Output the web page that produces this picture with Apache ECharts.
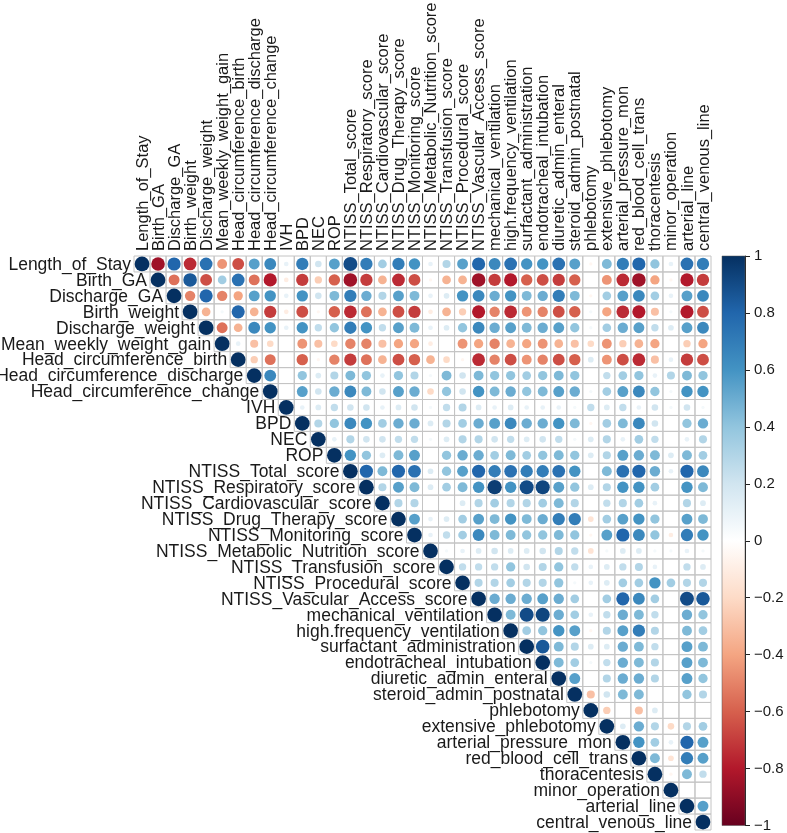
<!DOCTYPE html>
<html>
<head>
<meta charset="utf-8">
<script src="https://cdn.jsdelivr.net/npm/echarts@6/dist/echarts.min.js"></script>
<style>
html,body{margin:0;padding:0;background:#fff;}
#c{width:787px;height:833px;}
</style>
</head>
<body>
<div id="c"></div>
<script>
const names = ["Length_of_Stay","Birth_GA","Discharge_GA","Birth_weight","Discharge_weight","Mean_weekly_weight_gain","Head_circumference_birth","Head_circumference_discharge","Head_circumference_change","IVH","BPD","NEC","ROP","NTISS_Total_score","NTISS_Respiratory_score","NTISS_Cardiovascular_score","NTISS_Drug_Therapy_score","NTISS_Monitoring_score","NTISS_Metabolic_Nutrition_score","NTISS_Transfusion_score","NTISS_Procedural_score","NTISS_Vascular_Access_score","mechanical_ventilation","high.frequency_ventilation","surfactant_administration","endotracheal_intubation","diuretic_admin_enteral","steroid_admin_postnatal","phlebotomy","extensive_phlebotomy","arterial_pressure_mon","red_blood_cell_trans","thoracentesis","minor_operation","arterial_line","central_venous_line"];

// correlations of each row with the columns to its right (upper triangle, diagonal = 1)
const R00 = [-0.85,0.8,-0.75,0.75,-0.45,-0.65,0.55,0.65, 0.1,0.7,0.2,0.55,0.9,0.7,0.35,0.7,0.6, 0.1,0.3,0.55,0.8,0.65,0.75,0.6,0.6,0.75, 0.55,-0.05,0.45,0.7,0.8,0.4,0.1,0.75,0.7];
const R01 = [-0.55,0.85,-0.65,0.35,0.75,-0.55,-0.8, -0.1,-0.7,-0.25,-0.6,-0.85,-0.7,-0.35,-0.75,-0.65, -0.05,-0.35,-0.35,-0.85,-0.7,-0.8,-0.6,-0.65,-0.7, -0.6,0,-0.45,-0.75,-0.85,-0.4,-0.05,-0.8,-0.7];
const R02 = [-0.5,0.8,-0.5,-0.4,0.55,0.6, 0.1,0.6,0.2,0.45,0.7,0.5,0.3,0.55,0.45, 0.1,0.15,0.6,0.65,0.5,0.6,0.45,0.5,0.7, 0.45,-0.05,0.35,0.55,0.65,0.35,0.1,0.55,0.65];
const R03 = [-0.35,0.05,0.8,-0.35,-0.7, -0.1,-0.65,-0.05,-0.6,-0.75,-0.55,-0.35,-0.65,-0.7, -0.1,-0.35,-0.25,-0.8,-0.5,-0.75,-0.45,-0.5,-0.65, -0.6,0.05,-0.4,-0.75,-0.8,-0.3,0.05,-0.8,-0.65];
const R04 = [-0.55,-0.35,0.65,0.6, 0.1,0.6,0.25,0.4,0.7,0.6,0.25,0.55,0.45, 0.1,0.15,0.4,0.65,0.5,0.55,0.45,0.5,0.55, 0.4,0.05,0.35,0.5,0.55,0.25,0.15,0.55,0.65];
const R05 = [0.1,-0.3,-0.2, 0,-0.45,-0.3,-0.2,-0.5,-0.5,-0.3,-0.4,-0.4, -0.1,0,-0.45,-0.4,-0.5,-0.35,-0.4,-0.45,-0.35, -0.3,-0.2,-0.45,-0.25,-0.35,-0.4,0,-0.25,-0.4];
const R06 = [-0.25,-0.55, 0,-0.6,-0.05,-0.5,-0.7,-0.55,-0.35,-0.65,-0.6, -0.35,-0.2,-0.05,-0.75,-0.5,-0.65,-0.45,-0.5,-0.65, -0.6,0.15,-0.45,-0.65,-0.75,-0.3,0.1,-0.7,-0.65];
const R07 = [0.65, 0,0.4,0.15,0.3,0.45,0.4,0.1,0.4,0.3, 0.05,0.45,0.2,0.45,0.4,0.4,0.35,0.4,0.45, 0.4,0,0.25,0.35,0.4,0.1,0.3,0.45,0.4];
const R08 = [0,0.55,0.2,0.5,0.65,0.45,0.2,0.55,0.5, -0.2,0.4,0.2,0.6,0.45,0.5,0.4,0.45,0.55, 0.5,0.05,0.35,0.55,0.65,0.4,0.05,0.6,0.6];
const R09 = [0.1,0.15,0.25,0.2,0.2,0.1,0.15,0.2, 0.05,0.25,0.3,0.15,0.1,0.15,0.1,0.1,0.1, 0.05,0.25,0.15,0.25,0.1,0.2,0.05,0.2,0.05];
const R10 = [0.3,0.4,0.65,0.6,0.35,0.5,0.5, 0.15,0.3,0.35,0.5,0.55,0.65,0.5,0.5,0.6, 0.45,-0.05,0.35,0.45,0.65,0.2,0,0.4,0.5];
const R11 = [0.1,0.3,0.2,0.2,0.25,0.25, 0.05,0.15,0.3,0.3,0.2,0.25,0.15,0.2,0.25, 0.05,0.15,0.3,0.1,0.35,0.25,0,0.1,0.3];
const R12 = [0.6,0.4,0.15,0.45,0.55, 0,0.4,0.5,0.5,0.35,0.45,0.35,0.4,0.45, 0.4,0.15,0.3,0.55,0.5,0.45,0.15,0.45,0.35];
const R13 = [0.8,0.45,0.8,0.75, 0.15,0.4,0.55,0.8,0.7,0.75,0.7,0.7,0.75, 0.6,0,0.45,0.75,0.8,0.5,0.1,0.8,0.65];
const R14 = [0.3,0.55,0.45, 0.15,0.35,0.45,0.6,0.95,0.6,0.9,0.92,0.55, 0.4,0.15,0.3,0.6,0.6,0.35,0,0.6,0.45];
const R15 = [0.3,0.3, 0,0,0.15,0.3,0.35,0.3,0.3,0.35,0.45, 0.3,0,0.25,0.3,0.35,0.1,0,0.3,0.15];
const R16 = [0.55, 0.1,0.15,0.35,0.55,0.45,0.6,0.45,0.5,0.7, 0.7,-0.15,0.35,0.55,0.6,0.4,0,0.55,0.45];
const R17 = [0.1,0.25,0.35,0.65,0.45,0.45,0.4,0.4,0.45, 0.4,-0.05,0.55,0.8,0.65,0.4,-0.1,0.7,0.6];
const R18 = [0.05,0.1,0.15,0.2,0.15,0.15,0.2,0.3, 0.25,-0.15,0.05,0.15,0.15,0.05,0.05,0.1,0.05];
const R19 = [0.25,0.25,0.25,0.4,0.2,0.3,0.4, 0.25,0.1,0.15,0.25,0.3,0.1,0,0.25,0.15];
const R20 = [0.3,0.3,0.35,0.3,0.3,0.4, 0.05,0.1,0.15,0.35,0.35,0.6,0.35,0.3,0.3];
const R21 = [0.5,0.5,0.5,0.55,0.5, 0.35,0,0.35,0.8,0.65,0.35,0,0.9,0.85];
const R22 = [0.45,0.9,0.92,0.5, 0.35,0.1,0.25,0.5,0.45,0.25,0,0.5,0.4];
const R23 = [0.35,0.4,0.6, 0.55,-0.05,0.3,0.55,0.7,0.3,0,0.45,0.35];
const R24 = [0.85,0.45, 0.3,0.15,0.15,0.5,0.45,0.25,0,0.55,0.45];
const R25 = [0.45, 0.35,0.05,0.25,0.5,0.45,0.3,0,0.55,0.45];
const R26 = [0.55,0,0.3,0.5,0.5,0.3,0,0.55,0.4];
const R27 = [-0.3,0.2,0.45,0.45,0,0,0.4,0.3];
const R28 = [-0.25,0,-0.3,0.15,0,0,0];
const R29 = [0.15,0.5,0.3,-0.2,0.3,0.35];
const R30 = [0.6,0.35,0.1,0.8,0.55];
const R31 = [0.45,-0.15,0.7,0.55];
const R32 = [-0.05,0.45,0.25];
const R33 = [0,0];
const R34 = [0.55];

const colorTicks = [-1,-0.8,-0.6,-0.4,-0.2,0,0.2,0.4,0.6,0.8,1];
const palette = ["#67001F","#B2182B","#D6604D","#F4A582","#FDDBC7","#FFFFFF","#D1E5F0","#92C5DE","#4393C3","#2166AC","#053061"];

const upperRows = [R00,R01,R02,R03,R04,R05,R06,R07,R08,R09,R10,R11,R12,R13,R14,R15,R16,R17,R18,R19,R20,R21,R22,R23,R24,R25,R26,R27,R28,R29,R30,R31,R32,R33,R34];

const n = names.length;
const points = [];
const cells = [];
const rowLabels = [];
for (let i = 0; i < n; i++) {
  points.push([i, i, 1]);
  cells.push([i, i]);
  rowLabels.push([i, i]);
  const row = upperRows[i] || [];
  for (let k = 0; k < row.length; k++) {
    const j = i + 1 + k;
    points.push([j, i, row[k]]);
    cells.push([j, i]);
  }
}

const FONT = "'Liberation Sans', Arial, Helvetica, sans-serif";
const chart = echarts.init(document.getElementById('c'), null, {renderer: 'canvas'});

chart.setOption({
  backgroundColor: '#ffffff',
  animation: false,
  grid: [
    {left: 134, top: 256, width: 577, height: 574},
    {left: 722, top: 256, width: 23, height: 572}
  ],
  xAxis: [
    {type: 'category', data: names, position: 'top', gridIndex: 0, show: false},
    {type: 'category', data: [''], gridIndex: 1, show: false}
  ],
  yAxis: [
    {type: 'category', data: names, inverse: true, gridIndex: 0, show: false},
    {
      type: 'value', gridIndex: 1, min: -1, max: 1, interval: 0.2, position: 'right',
      axisLine: {show: true, lineStyle: {color: '#222', width: 1}},
      axisTick: {show: true, inside: false, length: 5, lineStyle: {color: '#222'}},
      splitLine: {show: false},
      axisLabel: {
        margin: 9, fontSize: 15, color: '#1a1a1a', fontFamily: FONT,
        formatter: function (v) { const s = String(parseFloat(v.toFixed(1))); return s.replace('-', '\u2212'); }
      }
    }
  ],
  visualMap: {
    show: false, type: 'continuous', min: -1, max: 1, dimension: 2, seriesIndex: 1,
    inRange: {color: palette}
  },
  series: [
    {
      type: 'custom', xAxisIndex: 0, yAxisIndex: 0, z: 1, silent: true,
      data: cells,
      renderItem: function (params, api) {
        const c = api.coord([api.value(0), api.value(1)]);
        const s = api.size([1, 1]);
        return {
          type: 'rect',
          shape: {x: c[0] - s[0] / 2, y: c[1] - s[1] / 2, width: s[0], height: s[1]},
          style: {fill: 'none', stroke: '#c4c4c4', lineWidth: 1}
        };
      }
    },
    {
      type: 'scatter', xAxisIndex: 0, yAxisIndex: 0, z: 3, silent: true,
      data: points,
      symbol: 'circle',
      symbolSize: function (val) { return 16 * 0.92 * Math.sqrt(Math.abs(val[2])); },
      itemStyle: {opacity: 1}
    },
    {
      // row labels, placed beside each diagonal cell
      type: 'custom', xAxisIndex: 0, yAxisIndex: 0, z: 4, silent: true,
      data: rowLabels,
      renderItem: function (params, api) {
        const i = api.value(0);
        const c = api.coord([i, api.value(1)]);
        return {
          type: 'text',
          style: {
            text: names[i], x: c[0] - 11, y: c[1] + 1, align: 'right', verticalAlign: 'middle',
            fontSize: 17.5, fontFamily: FONT, fill: '#1a1a1a'
          }
        };
      }
    },
    {
      // column labels, vertical above the grid
      type: 'custom', xAxisIndex: 0, yAxisIndex: 0, z: 4, silent: true,
      data: rowLabels,
      renderItem: function (params, api) {
        const i = api.value(0);
        const c = api.coord([i, 0]);
        const s = api.size([1, 1]);
        return {
          type: 'text',
          x: c[0] + 1, y: c[1] - s[1] / 2 - 5,
          rotation: Math.PI / 2,
          style: {
            text: names[i], x: 0, y: 0, align: 'left', verticalAlign: 'middle',
            fontSize: 16.5, fontFamily: FONT, fill: '#1a1a1a'
          }
        };
      }
    },
    {
      type: 'custom', xAxisIndex: 1, yAxisIndex: 1, z: 2, silent: true,
      data: [[0, colorTicks[0], colorTicks[colorTicks.length - 1]]],
      renderItem: function (params, api) {
        const bottom = api.coord([api.value(0), api.value(1)]);
        const top = api.coord([api.value(0), api.value(2)]);
        const w = api.size([1, 0])[0];
        const stops = palette.map(function (col, k) {
          return {offset: 1 - k / (palette.length - 1), color: col};
        }).reverse();
        return {
          type: 'rect',
          shape: {x: bottom[0] - w / 2, y: top[1], width: w, height: bottom[1] - top[1]},
          style: {
            fill: new echarts.graphic.LinearGradient(0, 0, 0, 1, stops),
            stroke: '#555', lineWidth: 0.5
          }
        };
      }
    }
  ]
});
</script>
</body>
</html>
